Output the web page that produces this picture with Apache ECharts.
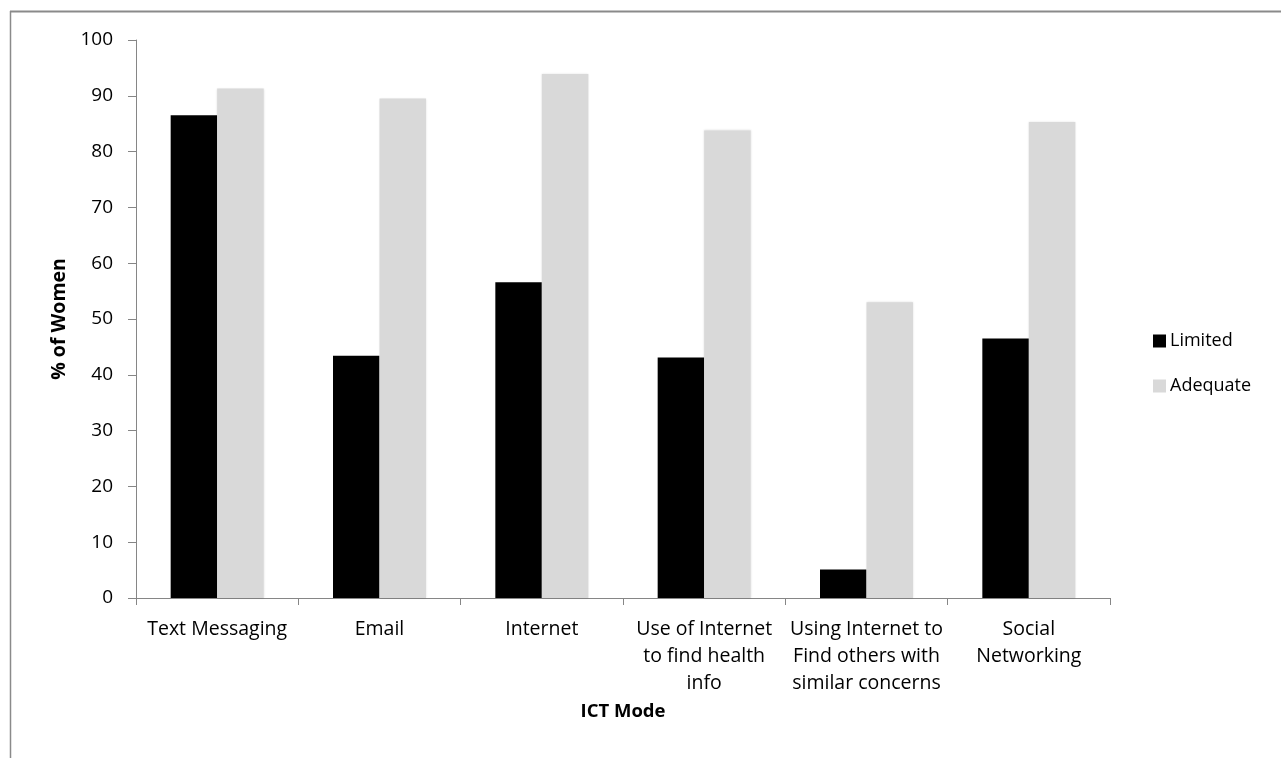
<!DOCTYPE html>
<html><head><meta charset="utf-8">
<script src="https://cdn.jsdelivr.net/npm/echarts@6/dist/echarts.min.js"></script>
<style>html,body{margin:0;padding:0;background:#fff}#c{width:1281px;height:758px}</style>
</head><body><div id="c"></div>
<script>
const categories = ["Text Messaging", "Email", "Internet", "Use of Internet\nto find health\ninfo", "Using Internet to\nFind others with\nsimilar concerns", "Social\nNetworking"];
const limited = [86.5, 43.4, 56.6, 43.1, 5.1, 46.5];
const adequate = [91.3, 89.5, 93.9, 83.8, 53.0, 85.3];
const seriesNames = ["Limited", "Adequate"];
const yTicks = {min: 0, max: 100, interval: 10};

const font = '"Open Sans", "Noto Sans", sans-serif';
const chart = echarts.init(document.getElementById('c'), null, {renderer: 'canvas'});
chart.setOption({
  animation: false,
  backgroundColor: '#fff',
  graphic: [
    {type: 'line', shape: {x1: 10, y1: 11.5, x2: 1281, y2: 11.5}, style: {stroke: '#8a8a8a', lineWidth: 2}},
    {type: 'line', shape: {x1: 10.5, y1: 11, x2: 10.5, y2: 758}, style: {stroke: '#8a8a8a', lineWidth: 1.5}}
  ],
  grid: {left: 136, right: 171, top: 40, bottom: 160, containLabel: false},
  legend: {
    orient: 'vertical', left: 1148, top: 327, itemWidth: 13, itemHeight: 13, itemGap: 27,
    icon: 'rect',
    textStyle: {fontFamily: font, fontSize: 18, lineHeight: 18, color: '#000', padding: [0, 0, 0, -1]},
    data: seriesNames
  },
  xAxis: {
    type: 'category', data: categories,
    name: 'ICT Mode', nameLocation: 'middle', nameGap: 104,
    nameTextStyle: {fontFamily: font, fontSize: 18.5, fontWeight: 'bold', color: '#000'},
    axisLine: {lineStyle: {color: '#868686', width: 1}},
    axisTick: {show: true, alignWithLabel: false, length: 7, lineStyle: {color: '#868686'}},
    axisLabel: {interval: 0, fontFamily: font, fontSize: 19.5, color: '#000', lineHeight: 27, margin: 18, align: 'center'}
  },
  yAxis: {
    type: 'value', min: yTicks.min, max: yTicks.max, interval: yTicks.interval,
    name: '% of Women', nameLocation: 'middle', nameGap: 65, nameRotate: 90,
    nameTextStyle: {fontFamily: font, fontSize: 19.5, fontWeight: 'bold', color: '#000'},
    splitLine: {show: false},
    axisLine: {show: true, lineStyle: {color: '#868686', width: 1}},
    axisTick: {show: true, length: 8, lineStyle: {color: '#868686'}},
    axisLabel: {fontFamily: font, fontSize: 19, color: '#000', margin: 23}
  },
  series: [
    {name: seriesNames[0], type: 'bar', data: limited, barWidth: 46.5, barGap: '0%',
     itemStyle: {color: '#000000'}},
    {name: seriesNames[1], type: 'bar', data: adequate, barWidth: 46.5,
     itemStyle: {color: '#d9d9d9', shadowBlur: 2, shadowColor: 'rgba(0,0,0,0.12)'}}
  ]
});
</script></body></html>
